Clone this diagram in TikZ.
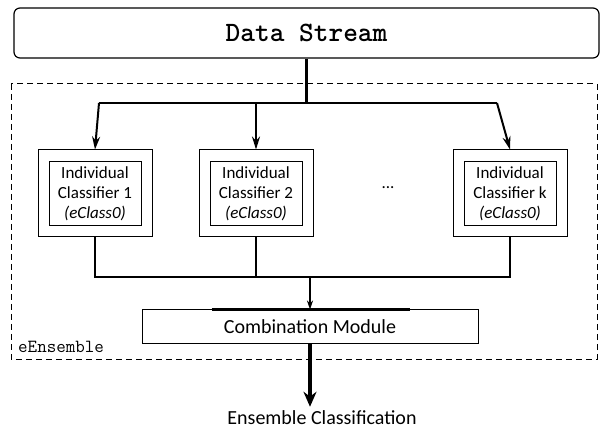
\documentclass[tikz,border=0pt]{standalone}
\usepackage{fontspec}
\setsansfont{Carlito}
\usetikzlibrary{positioning,calc,arrows.meta}

\tikzset{
  clsbox/.style={draw, line width=1pt, minimum width=92pt, minimum height=64pt,
    inner sep=0pt, align=center, font=\sffamily\fontsize{17}{20}\selectfont},
  clsframe/.style={draw, line width=1pt, minimum width=114pt, minimum height=87pt},
  wire/.style={line width=2pt},
  feed/.style={line width=2pt, -{Stealth[length=13pt,width=8pt]}},
}

\begin{document}
\begin{tikzpicture}[x=1pt,y=-1pt]
    \useasboundingbox (0,0) rectangle (605,430);

    % 定义主要尺寸
    \def\rowy{193.5}
    \def\splity{103}
    \def\joiny{277}

    % 顶部的数据流
    \node[draw, rounded corners=6pt, line width=1.2pt,
        minimum width=585pt, minimum height=50pt,
        font=\ttfamily\bfseries\fontsize{28}{28}\selectfont] (ds) at (306.5,33) {Data Stream};

    % eEnsemble 虚线框
    \draw[line width=1pt, dash pattern=on 6pt off 4pt] (11,84) rectangle (597,359);
    \node[anchor=west, inner sep=0pt,
        font=\ttfamily\fontsize{18.5}{18.5}\selectfont] (ens) at (18,347) {eEnsemble};

    % 各个分类器(双层方框)
    \foreach \x/\n in {95/1, 256/2, 510/k} {
        \node[clsframe] (f\n) at (\x,\rowy) {};
        \node[clsbox] (c\n) at (\x,194) {Individual\\Classifier \n\\\textit{(eClass0)}};
    }
    \node[font=\sffamily\fontsize{17}{20}\selectfont] (dots) at (388,188) {...};

    % 数据流分到各分类器
    \coordinate (top) at (306.5,\splity);
    \coordinate (s1) at (99,\splity);
    \coordinate (s2) at (256,\splity);
    \coordinate (s3) at (497,\splity);
    \draw[line width=3pt] (ds.south) -- (top);
    \draw[wire] (s1) -- (s3);
    \draw[feed] (s1) -- (f1.north);
    \draw[feed] (s2) -- (f2.north);
    \draw[feed] (s3) -- (fk.north);

    % 组合模块
    \node[draw, line width=1pt, minimum width=336pt, minimum height=33pt,
        font=\sffamily\fontsize{20}{20}\selectfont] (comb) at (310,326.5) {Combination Module};
    \draw[line width=2.5pt] ($(comb.north west)+(70,0)$) -- ($(comb.north west)+(268,0)$);

    % 分类器输出汇合
    \coordinate (j) at (310,\joiny);
    \draw[wire] (f1.south) -- (f1.south |- j) -- (fk.south |- j) -- (fk.south);
    \draw[wire] (f2.south) -- (f2.south |- j);
    \draw[line width=1.5pt, -{Stealth[length=9pt,width=6pt]}] (j) -- (comb.north);

    % 最终输出
    \node[inner sep=0pt, font=\sffamily\fontsize{20}{20}\selectfont] (out) at (322,418) {Ensemble Classification};
    \draw[line width=3.5pt, -{Stealth[length=15pt,width=13pt]}, shorten >=4pt]
        (comb.south) -- (comb.south |- out.north);

\end{tikzpicture}
\end{document}
